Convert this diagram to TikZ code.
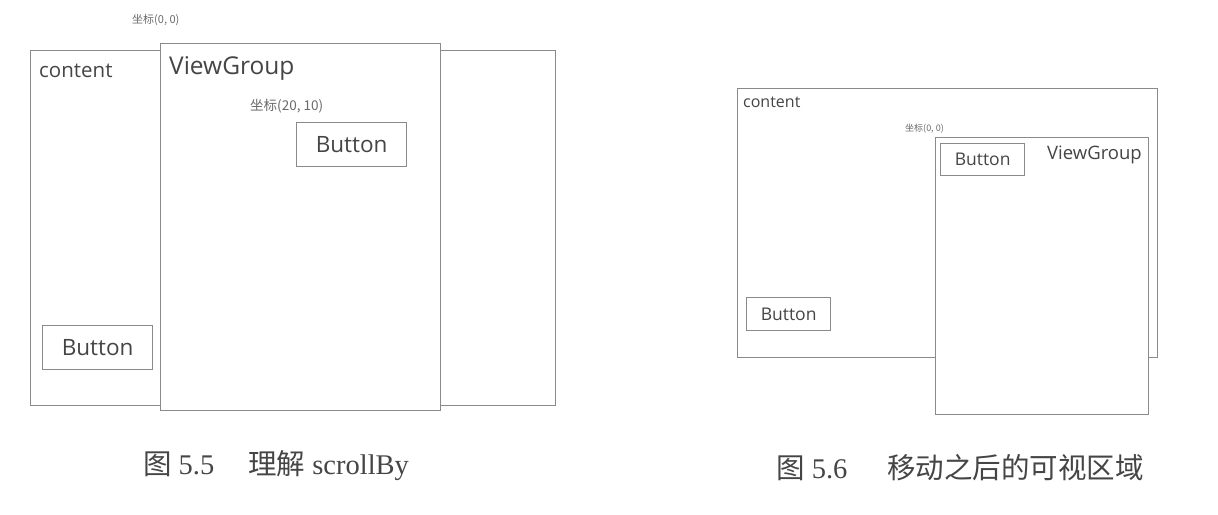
\documentclass[tikz,border=0pt]{standalone}
\usepackage{fontspec}
\setmainfont{Liberation Serif}
\newfontfamily\ui{Open Sans}
\newfontfamily\cjk{Noto Sans CJK SC}
\definecolor{linec}{HTML}{8A8A8A}
\definecolor{txtc}{HTML}{454545}
\begin{document}
\begin{tikzpicture}[x=1pt,y=-1pt,
  frame/.style={draw=linec,line width=1.3pt,fill=white,anchor=north west,inner sep=0pt},
  lbl/.style={text=txtc,inner sep=0pt,anchor=west,font=\ui},
  coord/.style={text=txtc!80,inner sep=0pt,anchor=west,font=\cjk\fontsize{11}{12}\selectfont},
  captext/.style={text=txtc,inner sep=0pt,font=\fontsize{28.5}{30}\selectfont}]
\useasboundingbox (0,0) rectangle (1218,514);
% ---------- left figure ----------
\node[frame,minimum width=525,minimum height=355] (contentA) at (30,50) {};
\node[frame,minimum width=280,minimum height=367] (vgA) at (160,43) {};
\node[frame,minimum width=110,minimum height=44] (btnA1) at (296,122) {};
\node[lbl,anchor=center,font=\ui\fontsize{22.5}{24}\selectfont] (btnA1t) at (btnA1.center) {Button};
\node[frame,minimum width=110,minimum height=44] (btnA2) at (42,325) {};
\node[lbl,anchor=center,font=\ui\fontsize{22.5}{24}\selectfont] (btnA2t) at (btnA2.center) {Button};
\node[lbl,font=\ui\fontsize{20.5}{22}\selectfont] (contentAt) at (39,71) {content};
\node[lbl,font=\ui\fontsize{24.5}{26}\selectfont] (vgAt) at (169,68) {ViewGroup};
\node[coord] (c00A) at (132,20) {坐标(0, 0)};
\node[coord,font=\cjk\fontsize{13.5}{15}\selectfont] (c2010) at (250,106) {坐标(20, 10)};
\node[captext] (capA) at (276,466) {{\cjk 图} 5.5\hspace{34pt}{\cjk 理解} scrollBy};
% ---------- right figure ----------
\node[frame,minimum width=420,minimum height=269] (contentB) at (737,88) {};
\node[frame,minimum width=213,minimum height=277] (vgB) at (935,137) {};
\node[frame,minimum width=84,minimum height=32] (btnB1) at (940,143) {};
\node[lbl,anchor=center,font=\ui\fontsize{17.5}{19}\selectfont] (btnB1t) at (btnB1.center) {Button};
\node[frame,minimum width=84,minimum height=33] (btnB2) at (746,297) {};
\node[lbl,anchor=center,font=\ui\fontsize{17.5}{19}\selectfont] (btnB2t) at (btnB2.center) {Button};
\node[lbl,font=\ui\fontsize{16}{17}\selectfont] (contentBt) at (743,102) {content};
\node[lbl,font=\ui\fontsize{18.5}{20}\selectfont] (vgBt) at (1047,155) {ViewGroup};
\node[coord,font=\cjk\fontsize{9}{10}\selectfont] (c00B) at (905,129) {坐标(0, 0)};
\node[captext] (capB) at (960,468) {{\cjk 图} 5.6\hspace{40pt}{\cjk 移动之后的可视区域}};
\end{tikzpicture}
\end{document}
